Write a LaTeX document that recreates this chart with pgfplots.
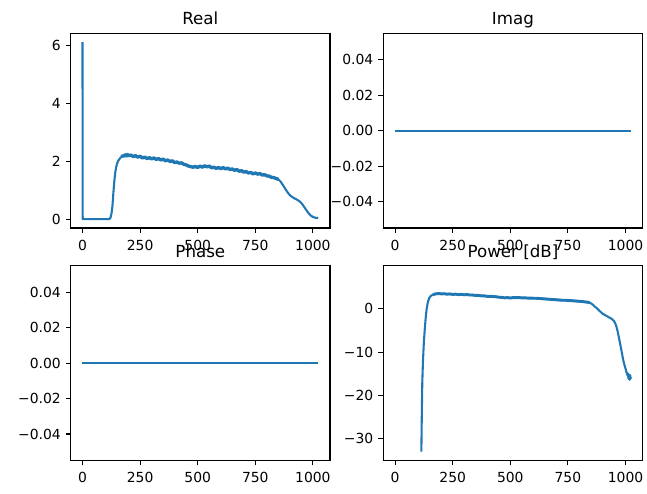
\documentclass[border=0pt]{standalone}
\usepackage{pgfplots}
\pgfplotsset{compat=1.18}
\usepackage{fontspec}
\setmainfont{DejaVu Sans}
\definecolor{mplblue}{HTML}{1F77B4}
\pgfplotsset{
  every axis title/.style={at={(0.5,1)}, anchor=base, yshift=6pt, font=\fontsize{12}{14}\selectfont},
  mpl/.style={
    scale only axis, width=186.7pt, height=140.2pt,
    xmin=-51.15, xmax=1074.15,
    xtick={0,250,500,750,1000}, xticklabels={0,250,500,750,1000},
    scaled x ticks=false, scaled y ticks=false,
    tick align=outside, tick pos=left, major tick length=3.5pt,
    axis line style={line width=0.8pt},
    every tick/.style={black, line width=0.8pt},
    tick label style={font=\fontsize{10}{12}\selectfont, black},
    xticklabel style={anchor=north, inner sep=0pt, yshift=-5pt},
    yticklabel style={anchor=east, inner sep=0pt, xshift=-3.5pt},
    anchor=north west,
  },
  mplline/.style={mplblue, line width=1.5pt, no marks, line join=round},
}
\pgfplotstableread{
x y
0 6.13
1 0
113 0
118 0.01
122 0.06
126 0.2
130 0.45
134 0.9
138 1.3
142 1.6
146 1.8
150 1.92
155 2.02
160 2.08
165 2.13
170 2.16
175 2.2
180 2.18
185 2.23
190 2.19
195 2.24
200 2.2
210 2.22
220 2.17
230 2.2
240 2.15
250 2.18
260 2.12
270 2.15
280 2.1
290 2.13
300 2.09
310 2.12
320 2.07
330 2.1
340 2.05
350 2.08
360 2.02
370 2.05
380 2.0
390 2.02
400 1.96
410 1.98
420 1.94
430 1.95
440 1.9
450 1.88
460 1.84
470 1.82
480 1.8
490 1.83
500 1.79
510 1.84
520 1.8
530 1.85
540 1.81
550 1.84
560 1.78
570 1.8
580 1.76
590 1.79
600 1.75
610 1.79
620 1.74
630 1.77
640 1.72
650 1.74
660 1.69
670 1.72
680 1.66
690 1.68
700 1.63
710 1.65
720 1.6
730 1.62
740 1.57
750 1.6
760 1.56
770 1.58
780 1.53
790 1.54
800 1.5
810 1.49
820 1.45
830 1.44
840 1.41
850 1.38
860 1.3
870 1.18
880 1.05
890 0.93
900 0.83
910 0.77
920 0.72
930 0.68
940 0.63
950 0.56
960 0.45
970 0.33
980 0.22
990 0.13
1000 0.08
1010 0.05
1023 0.04
}\realdata
\pgfplotstableread{
x y
114 -33
116 -24
118 -17
121 -12
125 -7.5
129 -4.5
133 -2
137 0
142 1.5
148 2.5
155 3.0
165 3.3
175 3.45
190 3.55
200 3.45
212 3.5
225 3.4
237 3.45
250 3.35
262 3.4
275 3.3
287 3.35
300 3.25
312 3.3
325 3.2
337 3.2
350 3.1
362 3.1
375 3.0
387 3.0
400 2.9
412 2.9
425 2.85
437 2.8
450 2.7
462 2.65
475 2.55
487 2.6
500 2.5
512 2.6
525 2.6
537 2.6
550 2.55
562 2.55
575 2.5
587 2.5
600 2.45
612 2.45
625 2.4
637 2.35
650 2.3
662 2.25
675 2.2
687 2.15
700 2.1
712 2.05
725 2.0
737 2.0
750 1.95
762 1.9
775 1.85
787 1.8
800 1.75
812 1.7
825 1.6
835 1.55
845 1.4
852 1.2
860 0.9
867 0.5
875 0.2
882 -0.2
890 -0.6
900 -1.1
910 -1.4
920 -1.7
930 -2.0
940 -2.3
950 -2.8
955 -3.3
960 -4
965 -5
970 -6.3
975 -7.6
980 -9
985 -10.4
990 -11.8
995 -12.9
1000 -13.8
1005 -14.8
1008 -15.3
1010 -14.9
1012 -15.8
1014 -16.2
1016 -15.2
1018 -16.4
1020 -15.3
1022 -16.1
1023 -15.8
}\powerdata
\begin{document}
\begin{tikzpicture}
% Real
\begin{axis}[mpl, at={(50.9pt,-23.98pt)}, title={Real},
  ymin=-0.3065, ymax=6.4365, ytick={0,2,4,6}, yticklabels={0,2,4,6}]
\addplot[mplline] table[x=x, y=y] {\realdata};
\addplot[mplline, line width=2.4pt, restrict x to domain=170:850] table[x=x, y=y] {\realdata};
\end{axis}
% Imag
\begin{axis}[mpl, at={(275.98pt,-23.98pt)}, title={Imag},
  ymin=-0.055, ymax=0.055, ytick={-0.04,-0.02,0,0.02,0.04},
  yticklabels={−0.04,−0.02,0.00,0.02,0.04}]
\addplot[mplline] coordinates {(0,0) (1023,0)};
\end{axis}
% Phase
\begin{axis}[mpl, at={(50.9pt,-191.38pt)}, title={Phase},
  ymin=-0.055, ymax=0.055, ytick={-0.04,-0.02,0,0.02,0.04},
  yticklabels={−0.04,−0.02,0.00,0.02,0.04}]
\addplot[mplline] coordinates {(0,0) (1023,0)};
\end{axis}
% Power
\begin{axis}[mpl, at={(275.98pt,-191.38pt)}, title={Power [dB]},
  ymin=-35.04, ymax=9.95, ytick={-30,-20,-10,0,10},
  yticklabels={−30,−20,−10,0,10}]
\addplot[mplline] table[x=x, y=y] {\powerdata};
\addplot[mplline, line width=2.1pt, restrict x to domain=165:850] table[x=x, y=y] {\powerdata};
\end{axis}
\pgfresetboundingbox
\path (0,0) rectangle (465.84pt,-355.68pt);
\end{tikzpicture}
\end{document}
